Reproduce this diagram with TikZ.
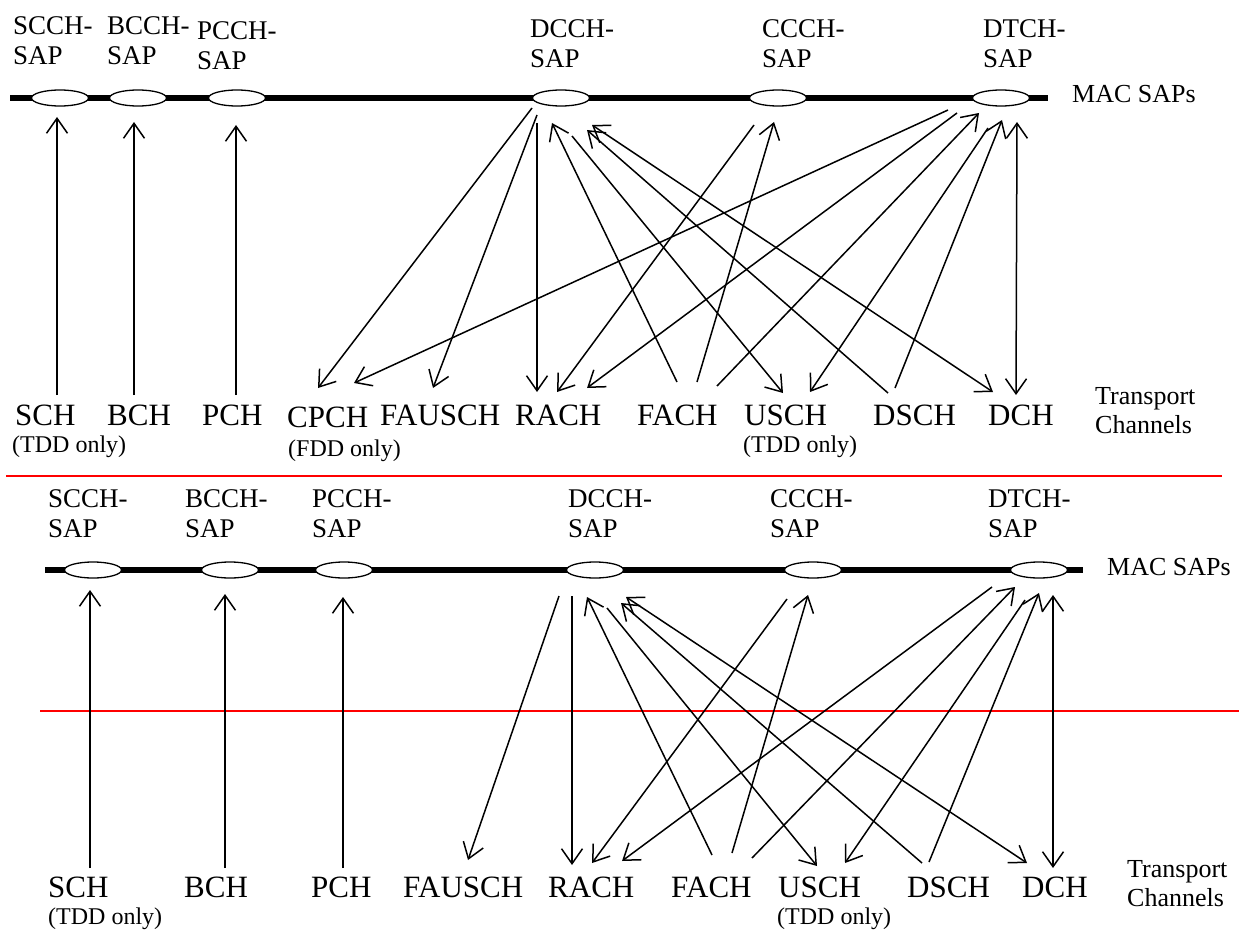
\documentclass[tikz,border=0pt]{standalone}
\usepackage{fontspec}
\setmainfont{Liberation Serif}
\usetikzlibrary{arrows.meta,shapes.geometric}
\newcommand{\twol}[2]{\begin{tabular}[t]{@{}l@{}}#1\\#2\end{tabular}}
\begin{document}
\begin{tikzpicture}[x=1pt,y=-1pt,
  sapline/.style={line width=6pt},
  sap/.style={draw, ellipse, fill=white, line width=1.3pt, minimum width=57pt, minimum height=16pt, inner sep=0pt},
  arr/.style={line width=1.5pt, -{Straight Barb[length=15pt,width=21pt]}},
  darr/.style={line width=1.5pt, {Straight Barb[length=15pt,width=21pt]}-{Straight Barb[length=15pt,width=21pt]}},
  saplab/.style={anchor=base west, inner sep=0pt, font=\fontsize{27}{30}\selectfont},
  chlab/.style={anchor=base west, inner sep=0pt, font=\fontsize{31}{36}\selectfont},
  sublab/.style={anchor=base west, inner sep=0pt, font=\fontsize{24}{28}\selectfont},
  maclab/.style={anchor=base west, inner sep=0pt, font=\fontsize{26}{29}\selectfont},
  redline/.style={draw=red, line width=1.5pt}]
\useasboundingbox (0,0) rectangle (1239,931);
\fill[white] (0,0) rectangle (1239,931);

% ================= TOP (UE side) =================
\coordinate (tl1) at (10,98);
\coordinate (tl2) at (1048,98);
\draw[sapline] (tl1) -- (tl2);
\node[sap] (tSCCH) at (60,98) {};
\node[sap] (tBCCH) at (138,98) {};
\node[sap] (tPCCH) at (237,98) {};
\node[sap] (tDCCH) at (561,98) {};
\node[sap] (tCCCH) at (778,98) {};
\node[sap] (tDTCH) at (1001,98) {};

\node[saplab] (tlSCCH) at (13,35) {\twol{SCCH-}{SAP}};
\node[saplab] (tlBCCH) at (107,35) {\twol{BCCH-}{SAP}};
\node[saplab] (tlPCCH) at (197,40) {\twol{PCCH-}{SAP}};
\node[saplab] (tlDCCH) at (530,38) {\twol{DCCH-}{SAP}};
\node[saplab] (tlCCCH) at (762,38) {\twol{CCCH-}{SAP}};
\node[saplab] (tlDTCH) at (983,38) {\twol{DTCH-}{SAP}};
\node[maclab] (tmac) at (1072,103) {MAC SAPs};

\node[chlab] (tSCH) at (15,425) {SCH};
\node[chlab] (tBCH) at (107,425) {BCH};
\node[chlab] (tPCH) at (202,425) {PCH};
\node[chlab] (tCPCH) at (287,427) {CPCH};
\node[chlab] (tFAUSCH) at (380,425) {FAUSCH};
\node[chlab] (tRACH) at (515,425) {RACH};
\node[chlab] (tFACH) at (637,425) {FACH};
\node[chlab] (tUSCH) at (744,425) {USCH};
\node[chlab] (tDSCH) at (873,425) {DSCH};
\node[chlab] (tDCH) at (988,425) {DCH};
\node[sublab] (tsub1) at (12,452) {(TDD only)};
\node[sublab] (tsub2) at (288,456) {(FDD only)};
\node[sublab] (tsub3) at (743,452) {(TDD only)};
\node[maclab] (ttc) at (1095,404) {\twol{Transport}{Channels}};

% arrow end points (top)
\coordinate (tSCHa) at (57,395);   \coordinate (tSCHb) at (57,117);
\coordinate (tBCHa) at (134,395);  \coordinate (tBCHb) at (134,122);
\coordinate (tPCHa) at (236,395);  \coordinate (tPCHb) at (236,125);
\coordinate (tD1a) at (532,108);   \coordinate (tD1b) at (318,388);
\coordinate (tD2a) at (537,115);   \coordinate (tD2b) at (433,388);
\coordinate (tD3a) at (537,123);   \coordinate (tD3b) at (537,392);
\coordinate (tD4a) at (677,382);   \coordinate (tD4b) at (552,123);
\coordinate (tD5a) at (572,136);   \coordinate (tD5b) at (783,393);
\coordinate (tD6a) at (888,393);   \coordinate (tD6b) at (587,130);
\coordinate (tD7a) at (993,392);   \coordinate (tD7b) at (592,125);
\coordinate (tC1a) at (754,125);   \coordinate (tC1b) at (557,392);
\coordinate (tC2a) at (697,382);   \coordinate (tC2b) at (774,122);
\coordinate (tT1a) at (948,110);   \coordinate (tT1b) at (354,383);
\coordinate (tT2a) at (957,113);   \coordinate (tT2b) at (587,388);
\coordinate (tT3a) at (717,386);   \coordinate (tT3b) at (979,113);
\coordinate (tT4a) at (988,128);   \coordinate (tT4b) at (810,392);
\coordinate (tT5a) at (895,388);   \coordinate (tT5b) at (1002,120);
\coordinate (tT6a) at (1016,395);  \coordinate (tT6b) at (1017,122);

\draw[arr] (tSCHa) -- (tSCHb);
\draw[arr] (tBCHa) -- (tBCHb);
\draw[arr] (tPCHa) -- (tPCHb);
\draw[arr] (tD1a) -- (tD1b);
\draw[arr] (tD2a) -- (tD2b);
\draw[arr] (tD3a) -- (tD3b);
\draw[arr] (tD4a) -- (tD4b);
\draw[arr] (tD5a) -- (tD5b);
\draw[arr] (tD6a) -- (tD6b);
\draw[darr] (tD7a) -- (tD7b);
\draw[arr] (tC1a) -- (tC1b);
\draw[arr] (tC2a) -- (tC2b);
\draw[arr] (tT1a) -- (tT1b);
\draw[arr] (tT2a) -- (tT2b);
\draw[arr] (tT3a) -- (tT3b);
\draw[arr] (tT4a) -- (tT4b);
\draw[arr] (tT5a) -- (tT5b);
\draw[darr] (tT6a) -- (tT6b);

% red separators
\coordinate (r1a) at (6,476);  \coordinate (r1b) at (1222,476);
\coordinate (r2a) at (40,711); \coordinate (r2b) at (1239,711);
\draw[redline] (r1a) -- (r1b);

% ================= BOTTOM (UTRAN side) =================
\coordinate (bl1) at (45,570);
\coordinate (bl2) at (1083,570);
\draw[sapline] (bl1) -- (bl2);
\node[sap] (bSCCH) at (93,570) {};
\node[sap] (bBCCH) at (230,570) {};
\node[sap] (bPCCH) at (344,570) {};
\node[sap] (bDCCH) at (595,570) {};
\node[sap] (bCCCH) at (813,570) {};
\node[sap] (bDTCH) at (1039,570) {};

\node[saplab] (blSCCH) at (48,507) {\twol{SCCH-}{SAP}};
\node[saplab] (blBCCH) at (185,507) {\twol{BCCH-}{SAP}};
\node[saplab] (blPCCH) at (312,507) {\twol{PCCH-}{SAP}};
\node[saplab] (blDCCH) at (568,507) {\twol{DCCH-}{SAP}};
\node[saplab] (blCCCH) at (770,507) {\twol{CCCH-}{SAP}};
\node[saplab] (blDTCH) at (988,507) {\twol{DTCH-}{SAP}};
\node[maclab] (bmac) at (1107,575) {MAC SAPs};

\node[chlab] (bSCH) at (48,897) {SCH};
\node[chlab] (bBCH) at (184,897) {BCH};
\node[chlab] (bPCH) at (311,897) {PCH};
\node[chlab] (bFAUSCH) at (403,897) {FAUSCH};
\node[chlab] (bRACH) at (548,897) {RACH};
\node[chlab] (bFACH) at (671,897) {FACH};
\node[chlab] (bUSCH) at (778,897) {USCH};
\node[chlab] (bDSCH) at (907,897) {DSCH};
\node[chlab] (bDCH) at (1022,897) {DCH};
\node[sublab] (bsub1) at (48,924) {(TDD only)};
\node[sublab] (bsub3) at (777,924) {(TDD only)};
\node[maclab] (btc) at (1127,877) {\twol{Transport}{Channels}};

\draw[redline] (r2a) -- (r2b);

\coordinate (bSCHa) at (90,868);   \coordinate (bSCHb) at (90,590);
\coordinate (bBCHa) at (225,868);  \coordinate (bBCHb) at (225,594);
\coordinate (bPCHa) at (343,868);  \coordinate (bPCHb) at (343,597);
\coordinate (bD2a) at (559,596);   \coordinate (bD2b) at (468,860);
\coordinate (bD3a) at (572,596);   \coordinate (bD3b) at (572,865);
\coordinate (bD4a) at (712,855);   \coordinate (bD4b) at (587,597);
\coordinate (bD5a) at (607,608);   \coordinate (bD5b) at (817,866);
\coordinate (bD6a) at (922,863);   \coordinate (bD6b) at (621,603);
\coordinate (bD7a) at (1027,863);  \coordinate (bD7b) at (626,597);
\coordinate (bC1a) at (787,599);   \coordinate (bC1b) at (592,863);
\coordinate (bC2a) at (732,853);   \coordinate (bC2b) at (808,595);
\coordinate (bT2a) at (992,587);   \coordinate (bT2b) at (622,861);
\coordinate (bT3a) at (752,858);   \coordinate (bT3b) at (1015,587);
\coordinate (bT4a) at (1025,600);  \coordinate (bT4b) at (845,863);
\coordinate (bT5a) at (929,862);   \coordinate (bT5b) at (1039,593);
\coordinate (bT6a) at (1053,868);  \coordinate (bT6b) at (1053,595);

\draw[arr] (bSCHa) -- (bSCHb);
\draw[arr] (bBCHa) -- (bBCHb);
\draw[arr] (bPCHa) -- (bPCHb);
\draw[arr] (bD2a) -- (bD2b);
\draw[arr] (bD3a) -- (bD3b);
\draw[arr] (bD4a) -- (bD4b);
\draw[arr] (bD5a) -- (bD5b);
\draw[arr] (bD6a) -- (bD6b);
\draw[darr] (bD7a) -- (bD7b);
\draw[arr] (bC1a) -- (bC1b);
\draw[arr] (bC2a) -- (bC2b);
\draw[arr] (bT2a) -- (bT2b);
\draw[arr] (bT3a) -- (bT3b);
\draw[arr] (bT4a) -- (bT4b);
\draw[arr] (bT5a) -- (bT5b);
\draw[darr] (bT6a) -- (bT6b);
\end{tikzpicture}
\end{document}
